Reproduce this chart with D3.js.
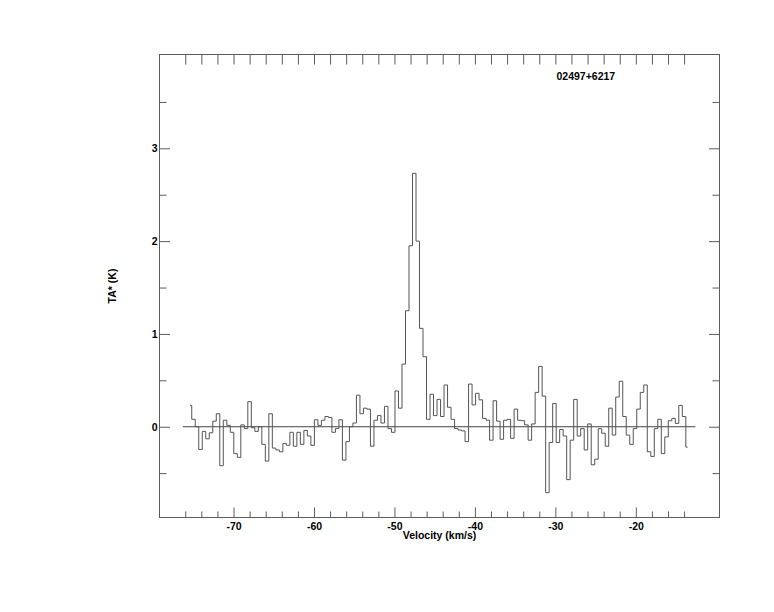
<!DOCTYPE html>
<html>
<head>
<meta charset="utf-8">
<script src="https://cdn.jsdelivr.net/npm/d3@7"></script>
<style>
  body { margin: 0; background: #fff; }
  svg { display: block; }
  text { font-family: "Liberation Sans", Arial, Helvetica, sans-serif; font-weight: bold; fill: #000; }
</style>
</head>
<body>
<div id="chart"></div>
<script>
// spectrum: first channel velocity and channel width (km/s), antenna temperature per channel (K)
const channelV0 = -75.41;
const channelWidth = 0.4355;
const ta = [
  0.23, 0.08, 0.0, -0.245, -0.05, -0.13, -0.065, 0.06, 0.14, -0.42,
  0.07, 0.015, -0.06, -0.29, -0.33, 0.02, -0.02, 0.27, -0.01, -0.05,
  0.0, -0.19, -0.37, 0.14, -0.23, -0.25, -0.27, -0.18, -0.20, -0.06,
  -0.21, -0.06, -0.19, -0.04, -0.10, -0.20, 0.075, 0.015, 0.07, 0.11,
  0.10, -0.06, -0.02, 0.075, -0.36, -0.16, 0.0, 0.04, 0.34, 0.14,
  0.20, 0.19, -0.21, 0.07, 0.12, 0.04, 0.22, -0.02, -0.06, 0.385,
  0.20, 0.675, 1.25, 1.95, 2.73, 2.0, 1.06, 0.755, 0.08, 0.35,
  0.12, 0.295, 0.11, 0.45, 0.21, 0.08, -0.02, -0.035, -0.045, -0.16,
  0.46, 0.235, 0.36, 0.29, 0.09, 0.07, -0.145, 0.28, 0.06, -0.135,
  0.07, 0.08, -0.125, 0.19, 0.07, 0.065, 0.02, -0.145, 0.03, 0.37,
  0.65, 0.33, -0.71, -0.17, 0.25, -0.17, -0.03, -0.10, -0.57, -0.145,
  0.295, -0.10, -0.02, -0.25, 0.03, -0.41, -0.35, -0.02, -0.07, -0.21,
  0.20, -0.09, 0.32, 0.49, 0.11, -0.09, -0.19, -0.02, 0.19, 0.37,
  0.45, -0.27, -0.32, -0.02, 0.08, -0.29, -0.11, 0.065, 0.09, 0.036,
  0.23, 0.11, -0.22
];
const baselineRange = [-76.3, -12.6];

const xMajorTicks = [-70, -60, -50, -40, -30, -20];
const xMinorTicks = [-76, -74, -72, -68, -66, -64, -62, -58, -56, -54, -52, -48, -46, -44, -42,
                     -38, -36, -34, -32, -28, -26, -24, -22, -18, -16, -14];
const xTopTicks = xMajorTicks.concat(xMinorTicks);
const yMajorTicks = [0, 1, 2, 3];
const yMinorTicks = [-0.5, 0.5, 1.5, 2.5, 3.5];

const sourceName = "02497+6217";
const xLabel = "Velocity (km/s)";
const yLabel = "TA* (K)";

const width = 774, height = 612;
const frame = { left: 159.5, right: 719.5, top: 54.5, bottom: 517.5 };
const axisColor = "#5c5c5c";

const spectrum = ta.map((t, i) => ({ v: channelV0 + i * channelWidth, t: t }));

const x = d3.scaleLinear().domain([-79.2, -9.6]).range([frame.left, frame.right]);
const y = d3.scaleLinear().domain([-0.978, 4.011]).range([frame.bottom, frame.top]);

const svg = d3.select('#chart')
  .append('svg')
  .attr('width', width)
  .attr('height', height)
  .attr('viewBox', `0 0 ${width} ${height}`);

function styleAxis(g) {
  g.select('.domain').remove();
  g.selectAll('.tick line').attr('stroke', axisColor);
  g.selectAll('.tick text').attr('fill', '#000');
  g.attr('font-size', 10.5).attr('font-family', null);
}

// bottom axis, labelled majors + minors
svg.append('g')
  .attr('transform', `translate(0,${frame.bottom})`)
  .call(d3.axisBottom(x).tickValues(xMajorTicks).tickSize(-10).tickPadding(5.5).tickFormat(d => String(d)))
  .call(styleAxis);
svg.append('g')
  .attr('transform', `translate(0,${frame.bottom})`)
  .call(d3.axisBottom(x).tickValues(xMinorTicks).tickSize(-6).tickFormat(''))
  .call(styleAxis);

// top axis, ticks only
svg.append('g')
  .attr('transform', `translate(0,${frame.top})`)
  .call(d3.axisTop(x).tickValues(xTopTicks).tickSize(-10).tickFormat(''))
  .call(styleAxis);

// left axis
svg.append('g')
  .attr('transform', `translate(${frame.left},0)`)
  .call(d3.axisLeft(y).tickValues(yMajorTicks).tickSize(-10.5).tickPadding(2).tickFormat(d => String(d)))
  .call(styleAxis);
svg.append('g')
  .attr('transform', `translate(${frame.left},0)`)
  .call(d3.axisLeft(y).tickValues(yMinorTicks).tickSize(-7).tickFormat(''))
  .call(styleAxis);

// right axis
svg.append('g')
  .attr('transform', `translate(${frame.right},0)`)
  .call(d3.axisRight(y).tickValues(yMajorTicks).tickSize(-10.5).tickFormat(''))
  .call(styleAxis);
svg.append('g')
  .attr('transform', `translate(${frame.right},0)`)
  .call(d3.axisRight(y).tickValues(yMinorTicks).tickSize(-7).tickFormat(''))
  .call(styleAxis);

// frame
svg.append('rect')
  .attr('x', frame.left)
  .attr('y', frame.top)
  .attr('width', frame.right - frame.left)
  .attr('height', frame.bottom - frame.top)
  .attr('fill', 'none')
  .attr('stroke', axisColor)
  .attr('stroke-width', 1);

// zero baseline
svg.append('line')
  .attr('x1', x(baselineRange[0]))
  .attr('x2', x(baselineRange[1]))
  .attr('y1', y(0))
  .attr('y2', y(0))
  .attr('stroke', '#444')
  .attr('stroke-width', 1);

// histogram-style spectrum
const line = d3.line()
  .x(d => x(d.v))
  .y(d => y(d.t))
  .curve(d3.curveStep);

svg.append('path')
  .datum(spectrum)
  .attr('d', line)
  .attr('fill', 'none')
  .attr('stroke', '#555')
  .attr('stroke-width', 1);

// labels
svg.append('text')
  .attr('x', (frame.left + frame.right) / 2)
  .attr('y', 539)
  .attr('text-anchor', 'middle')
  .attr('font-size', 10.5)
  .text(xLabel);

svg.append('text')
  .attr('transform', 'translate(115.5,286) rotate(-90)')
  .attr('text-anchor', 'middle')
  .attr('font-size', 10.5)
  .text(yLabel);

svg.append('text')
  .attr('x', 556.5)
  .attr('y', 79.5)
  .attr('font-size', 10.5)
  .text(sourceName);
</script>
</body>
</html>
